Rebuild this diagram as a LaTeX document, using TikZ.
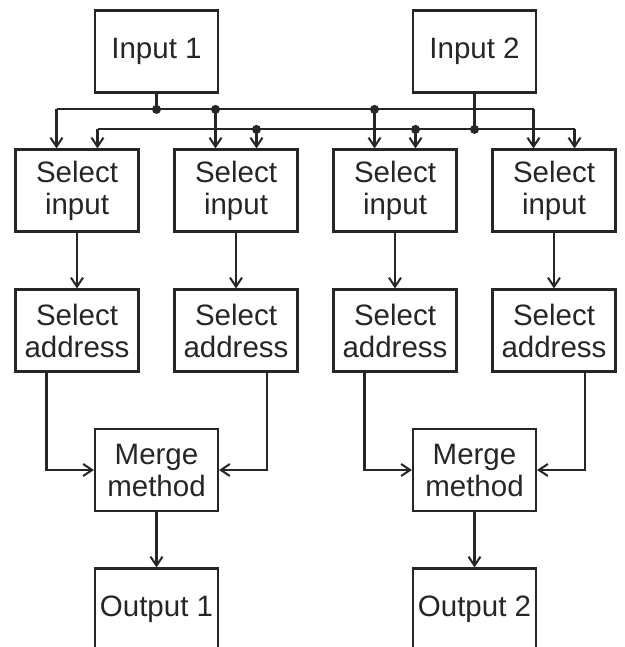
\documentclass[tikz,border=0pt]{standalone}
\usepackage{fontspec}
\setmainfont{Liberation Sans}
\usepackage{tikz}
\usetikzlibrary{calc, arrows.meta}
\definecolor{ink}{HTML}{262626}
\tikzset{
  box/.style={draw=ink, line width=2.2pt, text=ink, align=center, inner sep=0pt,
    minimum width=123pt, minimum height=82pt,
    font=\fontsize{29.5}{32}\selectfont},
  wire/.style={draw=ink, line width=2.2pt},
  arr/.style={wire, -{Straight Barb[length=9pt, width=12pt, line width=2pt]}}
}
\begin{document}
\begin{tikzpicture}[x=1pt, y=-1pt]
        \useasboundingbox (0,0) rectangle (624,647);
        \node[box] (in1) at (156.5,51.5) {Input 1};
        \node[box] (in2) at (474.5,51.5) {Input 2};
        \foreach \i/\x in {1/77, 2/236, 3/395, 4/554} {
          \node[box] (sel\i) at (\x,190.5) {Select\\input};
          \node[box] (adr\i) at (\x,330.5) {Select\\address};
          \draw[arr] (sel\i) -- (adr\i);
          \coordinate (u\i) at ($(sel\i.north)+(-20.5,-39)$);
          \coordinate (l\i) at ($(sel\i.north)+(20.5,-19)$);
        }
        \node[box] (mrg1) at (156.5,470) {Merge\\method};
        \node[box] (mrg2) at (474.5,470) {Merge\\method};
        \node[box] (out1) at (156.5,609.5) {Output 1};
        \node[box] (out2) at (474.5,609.5) {Output 2};
        \draw[wire] (u1) -- (u4);
        \draw[wire] (l1) -- (l4);
        \draw[arr] (u1) -- (u1 |- sel1.north);
        \draw[arr] (u2) -- (u2 |- sel2.north);
        \draw[arr] (u3) -- (u3 |- sel3.north);
        \draw[arr] (u4) -- (u4 |- sel4.north);
        \draw[arr] (l1) -- (l1 |- sel1.north);
        \draw[arr] (l2) -- (l2 |- sel2.north);
        \draw[arr] (l3) -- (l3 |- sel3.north);
        \draw[arr] (l4) -- (l4 |- sel4.north);
        \draw[wire] (in1.south) -- (in1.south |- u1);
        \draw[wire] (in2.south) -- (in2.south |- l1);
        \foreach \p in {in1.south |- u1, u2, u3, in2.south |- l1, l2, l3}
          \fill[ink] (\p) circle [radius=4.5];
        \draw[arr] ($(adr1.south west)+(32,0)$) |- (mrg1.west);
        \draw[arr] ($(adr2.south east)+(-32,0)$) |- (mrg1.east);
        \draw[arr] ($(adr3.south west)+(32,0)$) |- (mrg2.west);
        \draw[arr] ($(adr4.south east)+(-32,0)$) |- (mrg2.east);
        \draw[arr] (mrg1) -- (out1);
        \draw[arr] (mrg2) -- (out2);
      \end{tikzpicture}
\end{document}
